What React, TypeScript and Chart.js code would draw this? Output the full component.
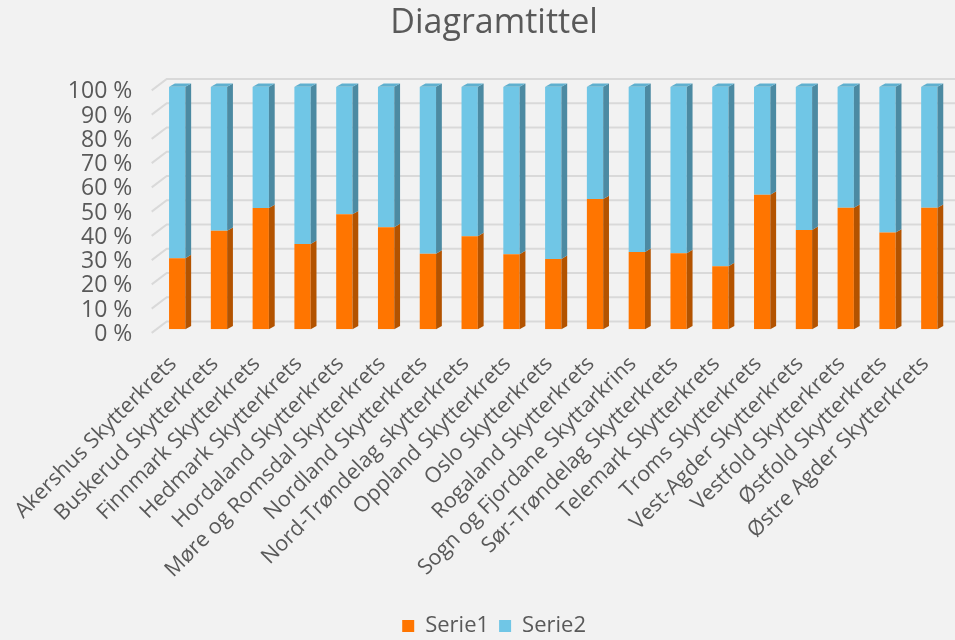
import React, { useEffect, useRef } from "react";
import { Chart, registerables } from "chart.js";

Chart.register(...registerables);

const categories = [
  "Akershus Skytterkrets",
  "Buskerud Skytterkrets",
  "Finnmark Skytterkrets",
  "Hedmark Skytterkrets",
  "Hordaland Skytterkrets",
  "Møre og Romsdal Skytterkrets",
  "Nordland Skytterkrets",
  "Nord-Trøndelag skytterkrets",
  "Oppland Skytterkrets",
  "Oslo Skytterkrets",
  "Rogaland Skytterkrets",
  "Sogn og Fjordane Skyttarkrins",
  "Sør-Trøndelag Skytterkrets",
  "Telemark Skytterkrets",
  "Troms Skytterkrets",
  "Vest-Agder Skytterkrets",
  "Vestfold Skytterkrets",
  "Østfold Skytterkrets",
  "Østre Agder Skytterkrets",
];

const serie1 = [29.3, 40.6, 50.0, 35.2, 47.4, 42.1, 31.2, 38.4, 31.0, 29.0, 53.7, 31.9, 31.4, 26.0, 55.5, 41.0, 50.1, 39.9, 50.1];
const serie2 = [70.7, 59.4, 50.0, 64.8, 52.6, 57.9, 68.8, 61.6, 69.0, 71.0, 46.3, 68.1, 68.6, 74.0, 44.5, 59.0, 49.9, 60.1, 49.9];

const yTicks = [0, 10, 20, 30, 40, 50, 60, 70, 80, 90, 100];

const FONT = "'Open Sans', 'Liberation Sans', sans-serif";
const TEXT = "#595959";
const BG = "#f2f2f2";

const ORANGE = "#ff7500";
const ORANGE_SIDE = "#b35300";
const BLUE = "#70c6e6";
const BLUE_SIDE = "#4c8aa2";
const BLUE_TOP = "#5fb0cf";

const gridPlugin = {
  id: "grid3d",
  beforeDatasetsDraw(chart: any) {
    const { ctx } = chart;
    const y = chart.scales.y;
    const area = chart.chartArea;
    ctx.save();
    ctx.strokeStyle = "#d9d9d9";
    ctx.lineWidth = 2;
    for (const v of yTicks) {
      const py = y.getPixelForValue(v);
      ctx.beginPath();
      ctx.moveTo(area.left - 4.6, py + 3.6);
      ctx.lineTo(area.left + 10.4, py - 7.8);
      ctx.lineTo(chart.width, py - 7.8);
      ctx.stroke();
    }
    ctx.restore();
  },
};

const bar3dPlugin = {
  id: "bar3d",
  afterDatasetsDraw(chart: any) {
    const { ctx } = chart;
    const dx = 5.8;
    const dy = -3.4;
    const n = chart.data.datasets.length;
    ctx.save();
    for (let d = 0; d < n; d++) {
      const meta = chart.getDatasetMeta(d);
      const side = d === 0 ? ORANGE_SIDE : BLUE_SIDE;
      meta.data.forEach((el: any) => {
        const { x, y, base, width } = el.getProps(["x", "y", "base", "width"], true);
        const r = x + width / 2;
        const l = x - width / 2;
        ctx.fillStyle = side;
        ctx.beginPath();
        ctx.moveTo(r, y);
        ctx.lineTo(r + dx, y + dy);
        ctx.lineTo(r + dx, base + dy);
        ctx.lineTo(r, base);
        ctx.closePath();
        ctx.fill();
        if (d === n - 1) {
          ctx.fillStyle = BLUE_TOP;
          ctx.beginPath();
          ctx.moveTo(l, y);
          ctx.lineTo(l + dx, y + dy);
          ctx.lineTo(r + dx, y + dy);
          ctx.lineTo(r, y);
          ctx.closePath();
          ctx.fill();
        }
      });
    }
    ctx.restore();
  },
};

const legendShift = {
  id: "legendShift",
  afterLayout(chart: any) {
    if (chart.legend) {
      chart.legend.top += 7;
      chart.legend.bottom += 7;
    }
  },
};

export default function App() {
  const ref = useRef<HTMLCanvasElement | null>(null);

  useEffect(() => {
    if (!ref.current) return;
    const chart = new Chart(ref.current, {
      type: "bar",
      data: {
        labels: categories,
        datasets: [
          { label: "Serie1", data: serie1, backgroundColor: ORANGE, borderWidth: 0 },
          { label: "Serie2", data: serie2, backgroundColor: BLUE, borderWidth: 0 },
        ],
      },
      plugins: [gridPlugin, bar3dPlugin, legendShift],
      options: {
        responsive: false,
        animation: false,
        devicePixelRatio: 1,
        layout: { padding: { left: 38, right: 4.8, top: 0, bottom: 0 } },
        datasets: {
          bar: { barPercentage: 0.39, categoryPercentage: 1 },
        },
        plugins: {
          title: {
            display: true,
            text: "Diagramtittel",
            color: TEXT,
            font: { family: FONT, size: 34, weight: "normal", lineHeight: 1.2 },
            padding: { top: 3, bottom: 43 },
          },
          legend: {
            display: true,
            position: "bottom",
            labels: {
              color: TEXT,
              font: { family: FONT, size: 22 },
              boxWidth: 12,
              boxHeight: 12,
              padding: 10,
            },
          },
          tooltip: { enabled: false },
        },
        scales: {
          x: {
            stacked: true,
            grid: { display: false, drawTicks: false },
            border: { display: false },
            ticks: {
              color: TEXT,
              font: { family: FONT, size: 21.5 },
              maxRotation: 45,
              minRotation: 45,
              autoSkip: false,
              padding: 22,
              labelOffset: -4,
            },
            afterFit: (s: any) => {
              const lh = s.chart.legend ? s.chart.legend.height : 42;
              s.height = s.chart.height - 329.3 - lh;
              s.paddingLeft = 0;
              s.paddingRight = 0;
            },
          },
          y: {
            stacked: true,
            min: 0,
            max: 100,
            grid: { display: false, drawTicks: false },
            border: { display: false },
            ticks: {
              color: TEXT,
              font: { family: FONT, size: 23 },
              stepSize: 10,
              autoSkip: false,
              padding: 24,
              labelOffset: 5,
              callback: (v: any) => `${v} %`,
            },
            afterFit: (s: any) => {
              s.width = 156.3 - 38;
              s.paddingTop = 0;
              s.paddingBottom = 0;
            },
          },
        },
      },
    });
    return () => chart.destroy();
  }, []);

  return (
    <div style={{ position: "fixed", left: 0, top: 0, width: 955, height: 640, background: BG }}>
      <canvas ref={ref} width={955} height={640} style={{ display: "block" }} />
    </div>
  );
}
